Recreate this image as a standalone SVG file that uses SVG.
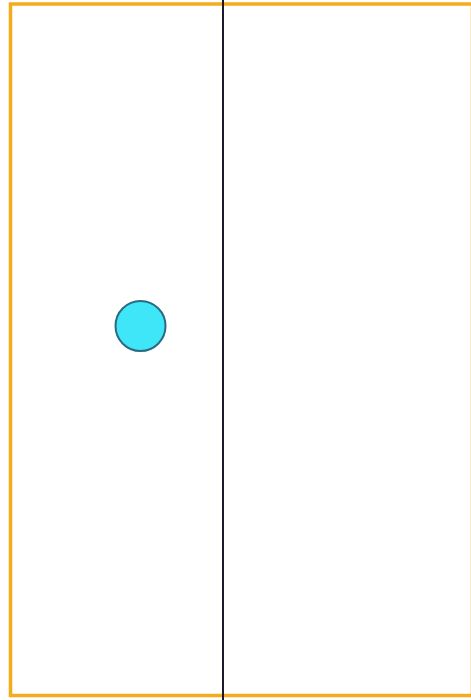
<svg xmlns="http://www.w3.org/2000/svg" width="471" height="700" viewBox="0 0 471 700">
<style>
.frame{fill:none;stroke:#f2ac1c;stroke-width:3.5}
.divider{stroke:#1a1a2a;stroke-width:2}
.dot{fill:#3ee6f8;stroke:#2b6a82;stroke-width:2}
</style>
<rect width="471" height="700" fill="#ffffff"/>
<g id="frame"><rect class="frame" x="10.5" y="4" width="462" height="691.5"/></g>
<g id="connectors"><line class="divider" x1="223" y1="0" x2="223" y2="700"/></g>
<g id="node-dot"><circle class="dot" cx="140.5" cy="326" r="25"/></g>
</svg>
